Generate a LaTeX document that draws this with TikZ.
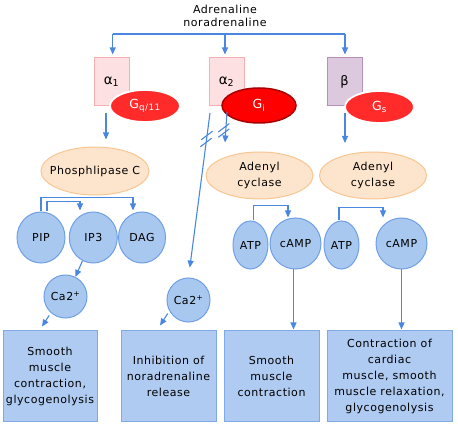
\documentclass[tikz,border=0pt]{standalone}
\usepackage{fontspec}
\setmainfont{DejaVu Sans}[LetterSpace=5]
\usetikzlibrary{shapes.geometric,arrows.meta,calc}
\definecolor{lnblue}{HTML}{4A87E0}
\definecolor{afill}{HTML}{FDE0E1}
\definecolor{adraw}{HTML}{F6AEB0}
\definecolor{bfill}{HTML}{DDC9DD}
\definecolor{bdraw}{HTML}{B88FB8}
\definecolor{gred}{HTML}{FF2B2B}
\definecolor{gired}{HTML}{FF0000}
\definecolor{gidraw}{HTML}{A80000}
\definecolor{ofill}{HTML}{FDE4CC}
\definecolor{odraw}{HTML}{F8C692}
\definecolor{cfill}{HTML}{A9C8F0}
\definecolor{cdraw}{HTML}{6F9FE4}
\definecolor{boxfill}{HTML}{AFCBF2}
\definecolor{boxdraw}{HTML}{80A9E6}
\begin{document}
\begin{tikzpicture}[x=1pt,y=-1pt,
  every node/.style={font=\fontsize{11}{16}\selectfont, inner sep=0pt},
  conn/.style={draw=lnblue, line width=1.1pt},
  arr/.style={conn, -{Triangle[length=7pt,width=6pt]}},
  recA/.style={draw=adraw, fill=afill, line width=1pt, minimum width=35pt, minimum height=48pt, font=\fontsize{13.5}{16}\selectfont},
  recB/.style={draw=bdraw, fill=bfill, line width=1pt, minimum width=35pt, minimum height=48pt, font=\fontsize{13}{16}\selectfont},
  gprot/.style={ellipse, fill=gred, draw=white, line width=1.8pt, minimum width=70pt, minimum height=32pt},
  gtext/.style={text=white, font=\fontsize{12.5}{16}\selectfont},
  enz/.style={ellipse, fill=ofill, draw=odraw, line width=1pt, minimum width=108pt, minimum height=48pt},
  mol/.style={ellipse, fill=cfill, draw=cdraw, line width=1pt},
  outbox/.style={rectangle, fill=boxfill, draw=boxdraw, line width=1pt, align=center, minimum height=91pt},
]
\useasboundingbox (0,0) rectangle (458,427);

% title
\node[align=center, font=\fontsize{11}{13}\selectfont] (title) at (225,16) {Adrenaline\\noradrenaline};

% receptors
\node[recA] (a1) at (111.5,82) {α\textsubscript{1}};
\node[recA] (a2) at (226.5,82) {α\textsubscript{2}};
\node[recB] (b) at (344.5,82) {β};

% G proteins
\node[gprot, label={[gtext]center:G\textsubscript{q/11}}] (gq) at (145,106) {};
\node[gprot, fill=gired, draw=gidraw, line width=1.5pt, minimum width=74pt, minimum height=35pt,
      label={[gtext]center:G\textsubscript{i}}] (gi) at (259,105.5) {};
\node[gprot, minimum width=69pt, label={[gtext]center:G\textsubscript{s}}] (gs) at (379.5,107) {};

% enzymes
\node[enz, label={center:Phosphlipase C}] (plc) at (95,171) {};
\node[enz, minimum width=107pt, minimum height=47pt, label={[align=center]center:Adenyl\\cyclase}] (ac1) at (259.5,175.5) {};
\node[enz, minimum width=107pt, minimum height=47pt, label={[align=center]center:Adenyl\\cyclase}] (ac2) at (373,175.5) {};

% molecules
\node[mol, minimum width=48pt, minimum height=51pt, label={center:PIP}] (pip) at (41,237.5) {};
\node[mol, minimum width=48pt, minimum height=51pt, label={center:IP3}] (ip3) at (93.3,237.5) {};
\node[mol, minimum width=47pt, minimum height=51pt, label={center:DAG}] (dag) at (142,237.5) {};
\node[mol, minimum width=35pt, minimum height=48pt, label={center:ATP}] (atp1) at (250.5,245) {};
\node[mol, minimum width=51pt, minimum height=51pt, label={center:cAMP}] (camp1) at (295.5,243.5) {};
\node[mol, minimum width=35pt, minimum height=48pt, label={center:ATP}] (atp2) at (341.5,245) {};
\node[mol, minimum width=51pt, minimum height=51pt, label={center:cAMP}] (camp2) at (401.5,243.5) {};
\node[mol, minimum width=43pt, minimum height=43pt, label={center:Ca2\textsuperscript{+}}] (ca1) at (65.5,296.5) {};
\node[mol, minimum width=43pt, minimum height=44pt, label={center:Ca2\textsuperscript{+}}] (ca2) at (188.5,300) {};

% outcome boxes
\node[outbox, minimum width=94pt] (box1) at (50,376.5) {Smooth\\muscle\\contraction,\\glycogenolysis};
\node[outbox, minimum width=95pt] (box2) at (168.5,376.5) {Inhibition of\\noradrenaline\\release};
\node[outbox, minimum width=95pt] (box3) at (271.5,376.5) {Smooth\\muscle\\contraction};
\node[outbox, minimum width=125pt] (box4) at (389.5,376.5) {Contraction of\\cardiac\\muscle, smooth\\muscle relaxation,\\glycogenolysis};

% top distribution
\coordinate (barL) at (112.7,34);
\coordinate (barM) at (225,34);
\coordinate (barR) at (345,34);
\draw[conn] (barL) -- (barR);
\draw[arr, shorten >=3pt] (barL) -- (barL |- a1.north);
\draw[arr, shorten >=3pt] (barM) -- (barM |- a2.north);
\draw[arr, shorten >=3pt] (barR) -- (barR |- b.north);

% receptor outputs
\coordinate (d1) at (106,113);
\draw[arr, shorten >=7pt] (d1) -- (d1 |- plc.north);
\coordinate (d3) at (345,113);
\draw[arr, shorten >=8.5pt] (d3) -- (d3 |- ac2.north);
\coordinate (d2) at (227,112);
\draw[arr] (d2) -- ($(ac1.north)+(-34.5,-9)$);
\draw[conn] (218.3,132) -- (229.3,123.6);
\draw[conn] (218.3,137.3) -- (229.3,128.9);
\coordinate (d2l) at (210,113);
\draw[arr, shorten >=10pt] (d2l) -- (ca2.north);
\draw[conn] (201.2,139.8) -- (212.6,131.2);
\draw[conn] (200.3,146.8) -- (211.7,138.2);

% PLC products
\draw[arr] (pip.north) -- ++(0,-14) -| ([xshift=-9pt,yshift=1pt]dag.north);
\draw[arr] ([xshift=6pt]pip.north) -- ++(0,-10) -| ([xshift=-13.3pt,yshift=1pt]ip3.north);
\draw[arr] (ip3.-115) -- (ca1.63);
\draw[arr, shorten <=3pt] (ca1.-132) -- ([xshift=-8pt,yshift=4pt]box1.north);
\draw[arr, shorten <=3pt] (ca2.-150) -- ([xshift=-8.5pt,yshift=5pt]box2.north);

% adenyl cyclase products
\draw[arr] ([xshift=3pt]atp1.north) -- ++(0,-15) -| ([xshift=-7.5pt]camp1.north);
\draw[arr] ([xshift=-2.5pt]atp2.north) -- ++(0,-13) -| ([xshift=-18.5pt]camp2.north);
\draw[arr, shorten >=1pt] ([xshift=-2pt]camp1.south) -- ([xshift=-2pt]camp1.south |- box3.north);
\draw[arr, shorten >=1pt] (camp2.south) -- (camp2.south |- box4.north);
\end{tikzpicture}
\end{document}
